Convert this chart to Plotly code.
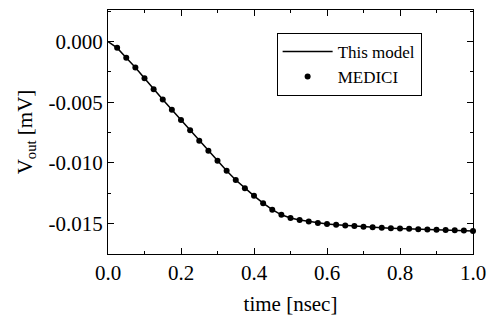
import plotly.graph_objects as go

# MEDICI simulation points (time in nsec, Vout in mV)
t_medici = [0.025, 0.05, 0.075, 0.1, 0.125, 0.15, 0.175, 0.2, 0.225, 0.25,
            0.275, 0.3, 0.325, 0.35, 0.375, 0.4, 0.425, 0.45, 0.475, 0.5,
            0.525, 0.55, 0.575, 0.6, 0.625, 0.65, 0.675, 0.7, 0.725, 0.75,
            0.775, 0.8, 0.825, 0.85, 0.875, 0.9, 0.925, 0.95, 0.975, 1.0]
v_medici = [-0.00052, -0.00133, -0.00213, -0.00303, -0.00393, -0.00477, -0.00561, -0.00646, -0.00731, -0.00818,
            -0.00900, -0.00982, -0.01064, -0.01140, -0.01208, -0.01271, -0.01331, -0.01385, -0.01427, -0.01453,
            -0.01469, -0.01482, -0.01494, -0.01502, -0.01509, -0.01515, -0.01520, -0.01525, -0.01529, -0.01533,
            -0.01537, -0.01540, -0.01543, -0.01546, -0.01549, -0.01551, -0.01553, -0.01555, -0.01557, -0.01560]

# Model curve
t_model = [0.0] + t_medici
v_model = [0.0] + v_medici

x_tickvals = [0.0, 0.2, 0.4, 0.6, 0.8, 1.0]
x_ticktext = ["0.0", "0.2", "0.4", "0.6", "0.8", "1.0"]
y_tickvals = [0.0, -0.005, -0.010, -0.015]
y_ticktext = ["0.000", "-0.005", "-0.010", "-0.015"]

font_family = "Liberation Serif"

fig = go.Figure()
fig.add_trace(go.Scatter(x=t_model, y=v_model, mode="lines", name="This model",
                         line=dict(color="black", width=1.5)))
fig.add_trace(go.Scatter(x=t_medici, y=v_medici, mode="markers", name="MEDICI",
                         marker=dict(color="black", size=6), cliponaxis=False))

axis_common = dict(showline=True, linecolor="black", linewidth=1.2, mirror="ticks",
                   ticks="inside", ticklen=6, tickwidth=1, tickcolor="black",
                   showgrid=False, zeroline=False,
                   tickfont=dict(family=font_family, size=21, color="black"))

fig.update_xaxes(range=[0, 1.0], tickvals=x_tickvals, ticktext=x_ticktext,
                 minor=dict(ticks="inside", ticklen=3, dtick=0.1, tickcolor="black", showgrid=False),
                 title=dict(text="time [nsec]", font=dict(family=font_family, size=21, color="black"),
                            standoff=12),
                 **axis_common)
fig.update_yaxes(range=[-0.0175, 0.0026], tickvals=y_tickvals, ticktext=y_ticktext,
                 minor=dict(ticks="inside", ticklen=3, tickvals=[0.0025, -0.0025, -0.0075, -0.0125, -0.0175],
                            tickcolor="black", showgrid=False),
                 title=dict(text="V<sub>out</sub> [mV]", font=dict(family=font_family, size=21, color="black"),
                            standoff=10),
                 **axis_common)

fig.update_layout(
    width=495, height=321,
    margin=dict(l=108, r=21, t=9, b=66),
    paper_bgcolor="white", plot_bgcolor="white",
    showlegend=True,
    legend=dict(x=0.462, y=0.906, xanchor="left", yanchor="top",
                bordercolor="black", borderwidth=1, bgcolor="white",
                font=dict(family=font_family, size=17, color="black"),
                itemwidth=50, tracegroupgap=0),
)

fig.write_html("out.html")
